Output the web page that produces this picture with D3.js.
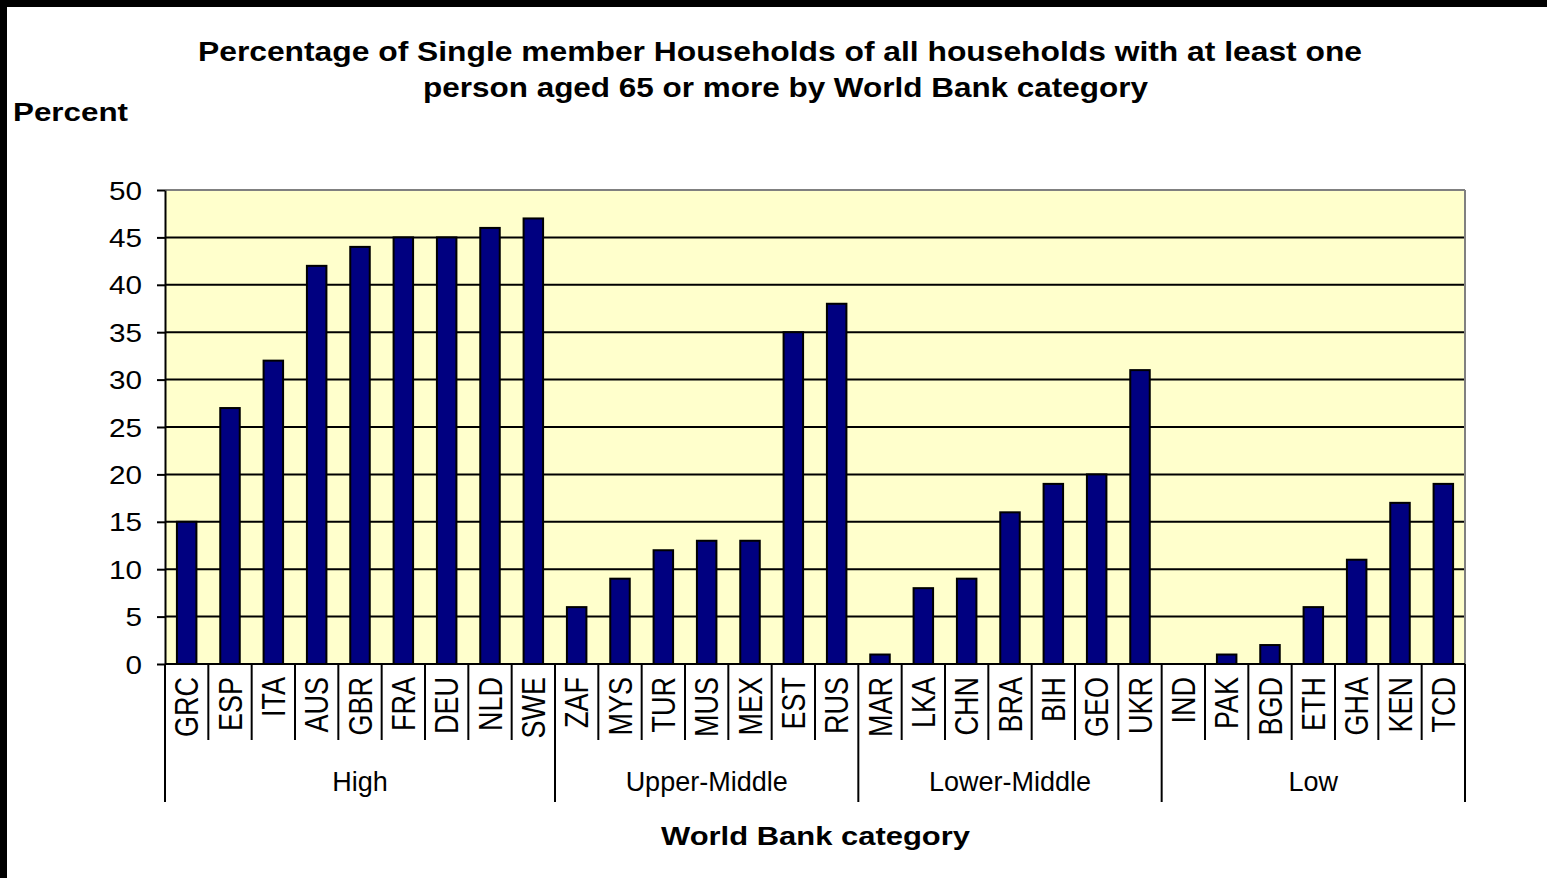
<!DOCTYPE html>
<html>
<head>
<meta charset="utf-8">
<script src="https://cdn.jsdelivr.net/npm/d3@7"></script>
<style>
  html, body { margin: 0; padding: 0; background: #ffffff; }
  svg { display: block; }
  text { font-family: "Liberation Sans", Arial, sans-serif; fill: #000; }
</style>
</head>
<body>
<svg id="chart" width="1547" height="878"></svg>
<script>
// ---- data ----
const categories = ["GRC","ESP","ITA","AUS","GBR","FRA","DEU","NLD","SWE",
                    "ZAF","MYS","TUR","MUS","MEX","EST","RUS",
                    "MAR","LKA","CHN","BRA","BIH","GEO","UKR",
                    "IND","PAK","BGD","ETH","GHA","KEN","TCD"];
const values = [15,27,32,42,44,45,45,46,47,
                6,9,12,13,13,35,38,
                1,8,9,16,19,20,31,
                0,1,2,6,11,17,19];
const groups = ["High","Upper-Middle","Lower-Middle","Low"];
const groupSizes = [9,7,7,7];
const yTicks = [0,5,10,15,20,25,30,35,40,45,50];
const titleLines = ["Percentage of Single member Households of all households with at least one",
                    "person aged 65 or more by World Bank category"];
const yTitle = "Percent";
const xTitle = "World Bank category";

// ---- layout ----
const svg = d3.select("#chart");
const L = 165, R = 1465, T = 190, B = 664;

// frame border (black on top/left)
svg.append("rect").attr("x",0).attr("y",0).attr("width",1547).attr("height",7).attr("fill","#000");
svg.append("rect").attr("x",0).attr("y",0).attr("width",7).attr("height",878).attr("fill","#000");

const x = d3.scaleBand().domain(categories).range([L, R]).paddingInner(0.55).paddingOuter(0.275);
const y = d3.scaleLinear().domain([0, 50]).range([B, T]);

// plot background
svg.append("rect").attr("x", L).attr("y", T).attr("width", R - L).attr("height", B - T)
  .attr("fill", "#FFFFCC");

// gridlines
svg.append("g").selectAll("line").data(yTicks.filter(d => d > 0 && d < 50)).join("line")
  .attr("x1", L).attr("x2", R).attr("y1", d => y(d)).attr("y2", d => y(d))
  .attr("stroke", "#000").attr("stroke-width", 2);

// plot border top / right (grey)
svg.append("line").attr("x1", L).attr("x2", R).attr("y1", y(50)).attr("y2", y(50))
  .attr("stroke", "#808080").attr("stroke-width", 2);
svg.append("line").attr("x1", R).attr("x2", R).attr("y1", T).attr("y2", B)
  .attr("stroke", "#808080").attr("stroke-width", 2);

// bars
svg.append("g").selectAll("rect").data(categories).join("rect")
  .attr("x", d => x(d))
  .attr("width", x.bandwidth())
  .attr("y", (d, i) => y(values[i]))
  .attr("height", (d, i) => y(0) - y(values[i]))
  .attr("fill", "#000080")
  .attr("stroke", "#000")
  .attr("stroke-width", (d, i) => values[i] > 0 ? 2 : 0);

// y axis
const yAxis = svg.append("g").attr("transform", `translate(${L},0)`)
  .call(d3.axisLeft(y).tickValues(yTicks).tickSize(8).tickSizeOuter(0).tickPadding(15));
yAxis.select(".domain").attr("stroke", "#000").attr("stroke-width", 2);
yAxis.selectAll(".tick line").attr("stroke", "#000").attr("stroke-width", 2);
yAxis.selectAll(".tick text")
  .attr("font-size", 25).attr("font-family", "Liberation Sans, Arial, sans-serif")
  .attr("dy", "0.36em")
  .attr("textLength", d => String(d).length * 16.5)
  .attr("lengthAdjust", "spacingAndGlyphs");

// x axis baseline
svg.append("line").attr("x1", L).attr("x2", R).attr("y1", B).attr("y2", B)
  .attr("stroke", "#000").attr("stroke-width", 2);

// category separators
const step = x.step();
const catBounds = d3.range(categories.length + 1).map(i => x.range()[0] + i * step);
const groupIdx = [0];
groupSizes.forEach(s => groupIdx.push(groupIdx[groupIdx.length - 1] + s));
svg.append("g").selectAll("line").data(catBounds).join("line")
  .attr("x1", d => d).attr("x2", d => d)
  .attr("y1", B)
  .attr("y2", (d, i) => groupIdx.includes(i) ? 802 : 740)
  .attr("stroke", "#000").attr("stroke-width", 2);

// category labels (rotated)
svg.append("g").selectAll("text").data(categories).join("text")
  .attr("transform", d => `translate(${x(d) + x.bandwidth() / 2},677) rotate(-90) scale(1,1.2)`)
  .attr("text-anchor", "end")
  .attr("dy", "0.36em")
  .attr("font-size", 27)
  .text(d => d);

// group labels
svg.append("g").selectAll("text").data(groups).join("text")
  .attr("x", (d, i) => (catBounds[groupIdx[i]] + catBounds[groupIdx[i + 1]]) / 2)
  .attr("y", 791)
  .attr("text-anchor", "middle")
  .attr("font-size", 27)
  .text(d => d);

// titles
const tl = [{x: 198, y: 61, len: 1164}, {x: 423, y: 97, len: 725}];
svg.append("g").selectAll("text").data(titleLines).join("text")
  .attr("x", (d, i) => tl[i].x).attr("y", (d, i) => tl[i].y)
  .attr("font-size", 27).attr("font-weight", "bold")
  .attr("textLength", (d, i) => tl[i].len).attr("lengthAdjust", "spacingAndGlyphs")
  .text(d => d);

svg.append("text").attr("x", 13).attr("y", 121)
  .attr("font-size", 26).attr("font-weight", "bold")
  .attr("textLength", 115).attr("lengthAdjust", "spacingAndGlyphs")
  .text(yTitle);

svg.append("text").attr("x", 661).attr("y", 845)
  .attr("font-size", 26).attr("font-weight", "bold")
  .attr("textLength", 309).attr("lengthAdjust", "spacingAndGlyphs")
  .text(xTitle);
</script>
</body>
</html>
